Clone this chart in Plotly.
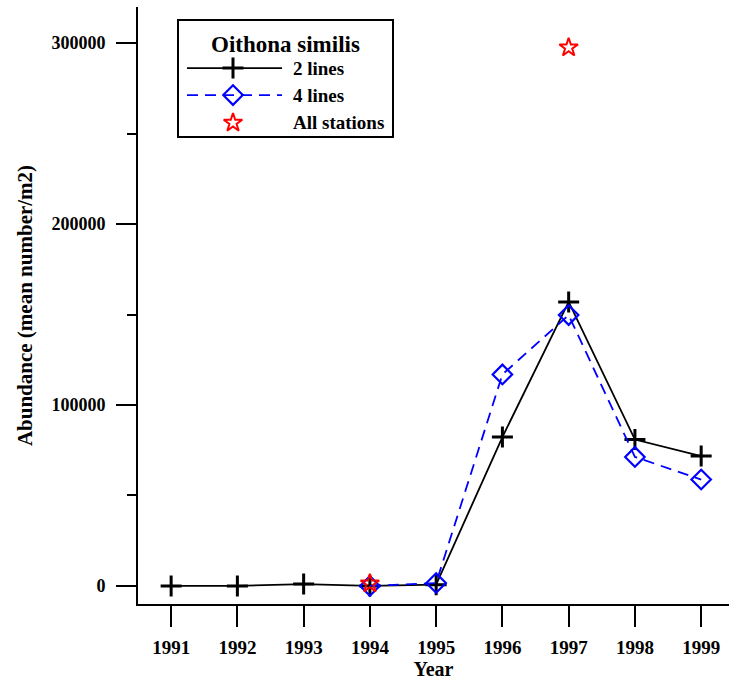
import plotly.graph_objects as go

# ---- data ----
years = [1991, 1992, 1993, 1994, 1995, 1996, 1997, 1998, 1999]
two_lines = [0, 0, 1000, 0, 700, 82300, 157000, 80900, 71800]
four_years = [1994, 1995, 1996, 1997, 1998, 1999]
four_lines = [0, 1600, 116900, 149700, 71300, 58800]
all_years = [1994, 1997]
all_stations = [1300, 297600]
y_ticks = [0, 100000, 200000, 300000]
legend_title = "Oithona similis"
legend_labels = ["2 lines", "4 lines", "All stations"]

FONT = "Liberation Serif"
BLUE = "#0000ff"
RED = "#ff0000"

PLUS = dict(symbol="cross-thin", size=15, line=dict(color="black", width=3))
DIAM = dict(symbol="diamond-open", size=15, color=BLUE, line=dict(color=BLUE, width=2.2))
STAR = dict(symbol="star-open", size=14, color=RED, line=dict(color=RED, width=2))

fig = go.Figure()

fig.add_trace(go.Scatter(
    x=years, y=two_lines, mode="lines+markers", showlegend=False,
    line=dict(color="black", width=1.8), marker=PLUS,
))
fig.add_trace(go.Scatter(
    x=four_years, y=four_lines, mode="lines+markers", showlegend=False,
    line=dict(color=BLUE, width=1.8, dash="11px,7px"), marker=DIAM,
))
fig.add_trace(go.Scatter(
    x=all_years, y=all_stations, mode="markers", showlegend=False, marker=STAR,
))

# ---- custom legend drawn on a pixel-like overlay axis ----
LX0, LX1, LY0, LY1 = 178, 393, 20, 137
sym_x = 233
line_x = [187, 282]
rows_y = [68, 95, 122.7]
fig.add_shape(type="rect", xref="x2", yref="y2", x0=LX0, x1=LX1, y0=LY0, y1=LY1,
              line=dict(color="black", width=2), fillcolor="white", layer="below")
fig.add_trace(go.Scatter(x=line_x, y=[rows_y[0]] * 2, xaxis="x2", yaxis="y2", mode="lines",
                         line=dict(color="black", width=1.8), showlegend=False, hoverinfo="skip"))
fig.add_trace(go.Scatter(x=[sym_x], y=[rows_y[0]], xaxis="x2", yaxis="y2", mode="markers",
                         marker=PLUS, showlegend=False, hoverinfo="skip"))
fig.add_trace(go.Scatter(x=line_x, y=[rows_y[1]] * 2, xaxis="x2", yaxis="y2", mode="lines",
                         line=dict(color=BLUE, width=1.8, dash="11px,7px"), showlegend=False, hoverinfo="skip"))
fig.add_trace(go.Scatter(x=[sym_x], y=[rows_y[1]], xaxis="x2", yaxis="y2", mode="markers",
                         marker=DIAM, showlegend=False, hoverinfo="skip"))
fig.add_trace(go.Scatter(x=[sym_x], y=[rows_y[2]], xaxis="x2", yaxis="y2", mode="markers",
                         marker=STAR, showlegend=False, hoverinfo="skip"))
fig.add_annotation(x=(LX0 + LX1) / 2, y=44, xref="x2", yref="y2", text="<b>%s</b>" % legend_title,
                   showarrow=False, xanchor="center", yanchor="middle",
                   font=dict(family=FONT, size=23, color="black"))
for lab, yy in zip(legend_labels, rows_y):
    fig.add_annotation(x=291, y=yy, xref="x2", yref="y2", text="<b>%s</b>" % lab,
                       showarrow=False, xanchor="left", yanchor="middle",
                       font=dict(family=FONT, size=19, color="black"))

fig.update_layout(
    width=729, height=681,
    margin=dict(l=138, r=0, t=7, b=77, pad=0),
    paper_bgcolor="white", plot_bgcolor="white",
    font=dict(family=FONT, size=17, color="black", weight="bold"),
    xaxis=dict(
        range=[1990.5, 1999.42], tickmode="array", tickvals=years,
        ticktext=[str(y) for y in years],
        showline=True, linecolor="black", linewidth=2, mirror=False,
        ticks="outside", ticklen=21, tickwidth=2, tickcolor="black",
        showgrid=False, zeroline=False,
        tickfont=dict(family=FONT, size=19, weight="bold"),
        ticklabelstandoff=4,
        title=dict(text="<b>Year</b>", font=dict(family=FONT, size=20), standoff=3),
    ),
    yaxis=dict(
        range=[-10000, 320000], tickmode="array", tickvals=y_ticks,
        ticktext=[str(v) for v in y_ticks],
        showline=True, linecolor="black", linewidth=2,
        ticks="outside", ticklen=20, tickwidth=2, tickcolor="black",
        minor=dict(dtick=50000, tick0=0, ticks="outside", ticklen=9, tickwidth=2, tickcolor="black", showgrid=False),
        showgrid=False, zeroline=False,
        tickfont=dict(family=FONT, size=18, weight="bold"),
        ticklabelstandoff=7,
        title=dict(text="<b>Abundance (mean number/m2)</b>", font=dict(family=FONT, size=21), standoff=13),
    ),
    xaxis2=dict(overlaying="x", anchor="y2", range=[138, 729], visible=False, fixedrange=True),
    yaxis2=dict(overlaying="y", anchor="x2", range=[603.5, 7], visible=False, fixedrange=True),
)

fig.write_html("out.html")
